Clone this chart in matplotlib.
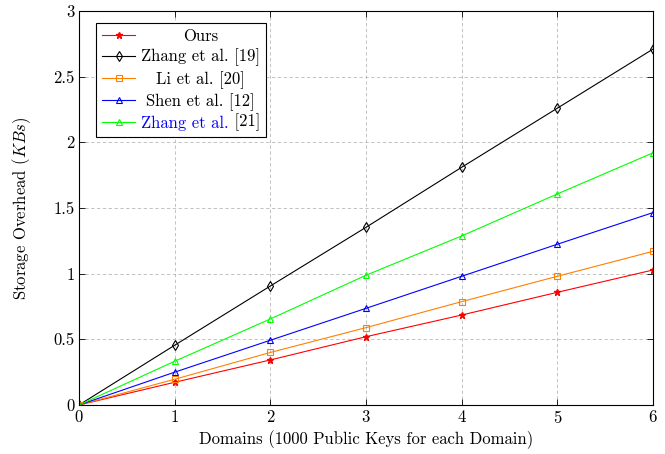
import matplotlib
matplotlib.use("Agg")
import matplotlib.pyplot as plt

# --- Data ---
domains = [0, 1, 2, 3, 4, 5, 6]
ours = [0, 0.173, 0.343, 0.52, 0.685, 0.858, 1.028]
zhang19 = [0, 0.455, 0.906, 1.353, 1.81, 2.26, 2.71]
li20 = [0, 0.196, 0.40, 0.589, 0.787, 0.98, 1.17]
shen12 = [0, 0.25, 0.493, 0.736, 0.98, 1.224, 1.465]
zhang21 = [0, 0.333, 0.655, 0.988, 1.287, 1.607, 1.92]

labels = ["Ours", "Zhang et al. [19]", "Li et al. [20]", "Shen et al. [12]", "Zhang et al. [21]"]
yticks = [0, 0.5, 1, 1.5, 2, 2.5, 3]

# --- Style: computer modern like pgfplots ---
plt.rcParams["font.family"] = "serif"
plt.rcParams["font.serif"] = ["cmr10"]
plt.rcParams["mathtext.fontset"] = "cm"
plt.rcParams["axes.formatter.use_mathtext"] = True
plt.rcParams["font.size"] = 12

fig = plt.figure(figsize=(6.65, 4.54), dpi=100)
ax = fig.add_axes([79 / 665, 49 / 454, 574 / 665, 394 / 454])

ax.plot(domains, ours, color="red", marker="*", ms=5, lw=0.8, label=labels[0])
ax.plot(domains, zhang19, color="black", marker="d", ms=5, mfc="none", mew=0.8, lw=0.8, label=labels[1])
ax.plot(domains, li20, color=(1, 0.5, 0), marker="s", ms=5, mfc="none", mew=0.8, lw=0.8, label=labels[2])
ax.plot(domains, shen12, color="blue", marker="^", ms=5, mfc="none", mew=0.8, lw=0.8, label=labels[3])
ax.plot(domains, zhang21, color=(0, 1, 0), marker="^", ms=5, mfc="none", mew=0.8, lw=0.8, label=labels[4])

ax.set_xlim(0, 6)
ax.set_ylim(0, 3)
ax.set_xticks(domains)
ax.set_yticks(yticks)
ax.set_yticklabels(["0", "0.5", "1", "1.5", "2", "2.5", "3"])
ax.tick_params(direction="in", top=True, right=True, length=4, width=0.6, pad=3)
ax.grid(True, color="0.72", ls=(0, (4, 3)), lw=0.6)
for s in ax.spines.values():
    s.set_linewidth(0.8)

ax.set_xlabel("Domains (1000 Public Keys for each Domain)", labelpad=3)
ax.set_ylabel("Storage Overhead ($KBs$)", labelpad=15)

# --- Legend with centred labels ---
leg = ax.legend(loc="upper left", bbox_to_anchor=(0.03, 0.97), borderaxespad=0,
                fancybox=False, edgecolor="black", framealpha=1, handlelength=2,
                handletextpad=0.35, labelspacing=0.28, borderpad=0.35)
leg.get_frame().set_linewidth(0.8)

renderer = fig.canvas.get_renderer()
texts = leg.get_texts()
widths = [t.get_window_extent(renderer).width for t in texts]
wmax = max(widths)
for t, w in zip(texts, widths):
    t.set_x((wmax - w) / 2)

# last entry: author part in blue, reference in black
last = texts[-1]
last.set_text("Zhang et al.")
last.set_color("blue")
ax.annotate(" [21]", xy=(1, 0), xycoords=last, ha="left", va="bottom",
            fontsize=12, zorder=10, annotation_clip=False)

fig.savefig("out.png", dpi=100)
